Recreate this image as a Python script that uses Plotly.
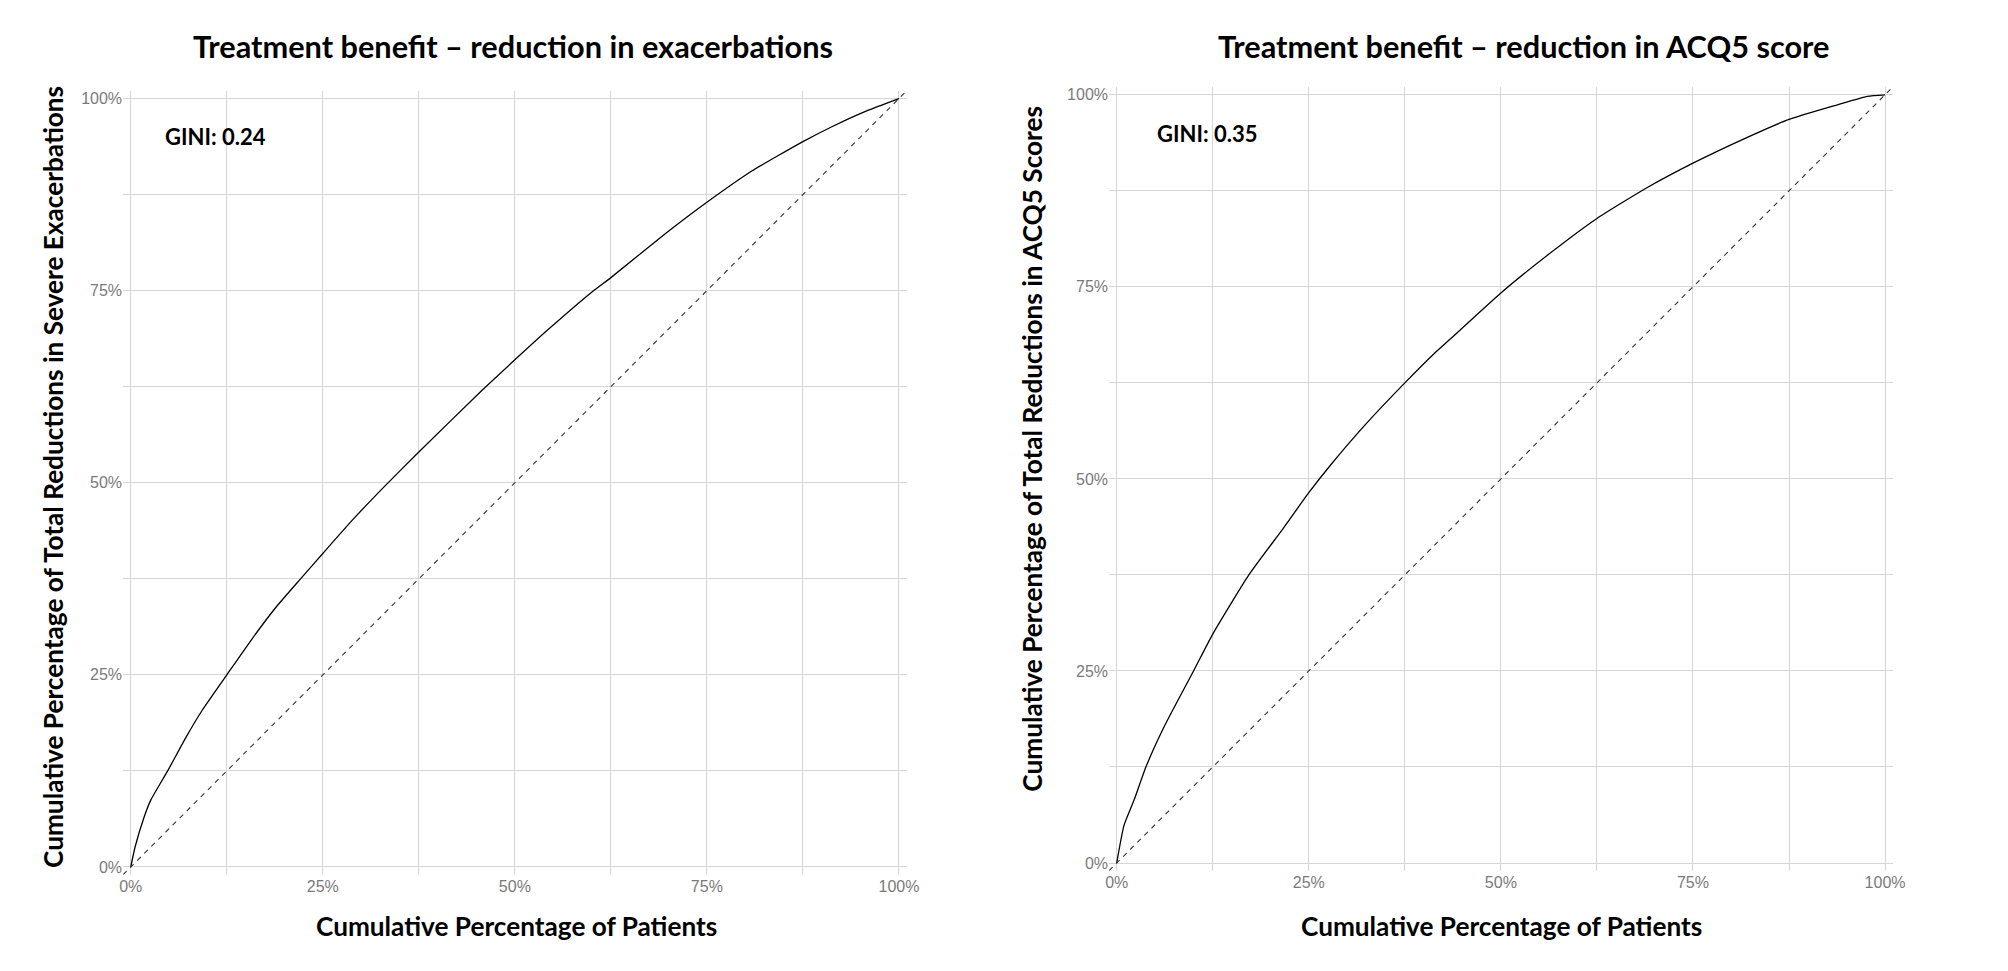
import plotly.graph_objects as go

# Cumulative % of patients vs cumulative % of total reduction
exac_x = [0, 0.56, 1.74, 2.6, 4.8, 7.2, 9.3, 12.5, 15.8, 18.9, 22.1, 25, 28.9, 33.1, 37.5,
          45.8, 50, 54.4, 60, 62.5, 69.7, 75, 80.9, 87.5, 91.4, 95.8, 100]
exac_y = [0, 2.6, 6.5, 8.7, 12.5, 16.9, 20.4, 25, 29.7, 33.8, 37.5, 40.8, 45.2, 49.6, 54,
          62.1, 66, 70.0, 74.8, 76.7, 82.5, 86.5, 90.6, 94.4, 96.4, 98.4, 100]

acq_x = [0, 0.95, 2.26, 3.8, 6.2, 10, 12.5, 17.2, 21.7, 25, 28, 32.3, 37.5, 41.3, 43.3, 50,
         56.3, 62.5, 69, 75, 81.5, 87.5, 93.8, 97.7, 100]
acq_y = [0, 4.9, 8.2, 12.5, 17.8, 25, 29.8, 37.5, 43.6, 48.2, 52.0, 57.0, 62.5, 66.3, 68.1, 74.2,
         79.3, 83.9, 87.9, 91.1, 94.2, 96.8, 98.7, 99.8, 100]

gini_exac = 0.24
gini_acq = 0.35

tick_vals = [0, 25, 50, 75, 100]
tick_text = [f"{v}%" for v in tick_vals]
axis_range = [-1, 101]

title_font = dict(family="Lato, Open Sans, sans-serif", size=30.7, color="black")
axis_title_font = dict(family="Lato, Open Sans, sans-serif", size=26.2, color="black")
gini_font = dict(family="Lato, Open Sans, sans-serif", size=22, color="black")
tick_font = dict(family="Liberation Sans, Arial, sans-serif", size=16, color="#7a7a7a")
grid_col = "#d6d6d6"

fig = go.Figure()

# Lorenz-type curves
fig.add_trace(go.Scatter(x=exac_x, y=exac_y, mode="lines",
                         line=dict(color="black", width=1.3, shape="spline", smoothing=0.5),
                         xaxis="x", yaxis="y", hoverinfo="skip"))
fig.add_trace(go.Scatter(x=acq_x, y=acq_y, mode="lines",
                         line=dict(color="black", width=1.3, shape="spline", smoothing=0.5),
                         xaxis="x2", yaxis="y2", hoverinfo="skip"))

# line of equality across the whole panel
for xa, ya in [("x", "y"), ("x2", "y2")]:
    fig.add_trace(go.Scatter(x=axis_range, y=axis_range, mode="lines",
                             line=dict(color="#333333", width=1.1, dash="5px,5px"),
                             xaxis=xa, yaxis=ya, hoverinfo="skip"))

ax_common = dict(range=axis_range, tickmode="array", tickvals=tick_vals, ticktext=tick_text,
                 tickfont=tick_font, showgrid=True, gridcolor=grid_col, gridwidth=1.3,
                 zeroline=False, showline=False, ticks="", fixedrange=True, automargin=False,
                 minor=dict(dtick=12.5, tick0=0, showgrid=True, gridcolor=grid_col, gridwidth=1))

fig.update_layout(
    width=2008, height=971,
    margin=dict(l=0, r=0, t=0, b=0, autoexpand=False),
    plot_bgcolor="white", paper_bgcolor="white",
    showlegend=False,
    xaxis=dict(domain=[0.0613, 0.4515], anchor="y", **ax_common),
    yaxis=dict(domain=[0.0992, 0.9064], anchor="x", **ax_common),
    xaxis2=dict(domain=[0.5523, 0.9426], anchor="y2", **ax_common),
    yaxis2=dict(domain=[0.1033, 0.9103], anchor="x2", **ax_common),
)

annotations = [
    # titles
    dict(text="<b>Treatment benefit \u2013 reduction in exacerbations</b>", x=0.2555, y=0.9526,
         font=title_font),
    dict(text="<b>Treatment benefit \u2013 reduction in ACQ5 score</b>", x=0.7585, y=0.9526,
         font=title_font),
    # x axis titles
    dict(text="<b>Cumulative Percentage of Patients</b>", x=0.257, y=0.0463, font=axis_title_font),
    dict(text="<b>Cumulative Percentage of Patients</b>", x=0.748, y=0.0463, font=axis_title_font),
    # y axis titles
    dict(text="<b>Cumulative Percentage of Total Reductions in Severe Exacerbations</b>",
         x=0.0264, y=0.5088, textangle=-90, font=axis_title_font),
    dict(text="<b>Cumulative Percentage of Total Reductions in ACQ5 Scores</b>",
         x=0.5138, y=0.5376, textangle=-90, font=axis_title_font),
]
for a in annotations:
    a.update(xref="paper", yref="paper", xanchor="center", yanchor="middle", showarrow=False)

# GINI labels inside the panels
annotations.append(dict(text=f"<b>GINI: {gini_exac:.2f}</b>", x=4.2, y=95, xref="x", yref="y",
                        xanchor="left", yanchor="middle", showarrow=False, font=gini_font))
annotations.append(dict(text=f"<b>GINI: {gini_acq:.2f}</b>", x=5.0, y=95, xref="x2", yref="y2",
                        xanchor="left", yanchor="middle", showarrow=False, font=gini_font))

fig.update_layout(annotations=annotations)

fig.write_html("out.html", config=dict(displayModeBar=False),
               post_script="document.body.style.margin='0';document.body.style.overflow='hidden';")
